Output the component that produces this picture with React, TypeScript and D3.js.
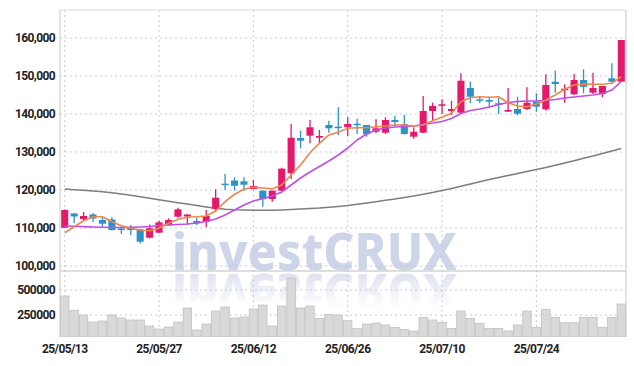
import React from 'react';
import * as d3 from 'd3';

const dates = [
  '25/05/13', '25/05/14', '25/05/15', '25/05/16', '25/05/19', '25/05/20', '25/05/21', '25/05/22', '25/05/23', '25/05/26',
  '25/05/27', '25/05/28', '25/05/29', '25/05/30', '25/06/02', '25/06/04', '25/06/05', '25/06/09', '25/06/10', '25/06/11',
  '25/06/12', '25/06/13', '25/06/16', '25/06/17', '25/06/18', '25/06/19', '25/06/20', '25/06/23', '25/06/24', '25/06/25',
  '25/06/26', '25/06/27', '25/06/30', '25/07/01', '25/07/02', '25/07/03', '25/07/04', '25/07/07', '25/07/08', '25/07/09',
  '25/07/10', '25/07/11', '25/07/14', '25/07/15', '25/07/16', '25/07/17', '25/07/18', '25/07/21', '25/07/22', '25/07/23',
  '25/07/24', '25/07/25', '25/07/28', '25/07/29', '25/07/30', '25/07/31', '25/08/01', '25/08/04', '25/08/05', '25/08/06'
];

const opens = [
  110050, 113820, 112370, 113550, 112110, 112240, 109870, 110130, 109610, 107450,
  108760, 110790, 112970, 113030, 111840, 111660, 115000, 121660, 122500, 122290,
  120260, 119820, 117630, 119820, 124390, 133680, 134290, 133760, 137110, 136660,
  136500, 137450, 137110, 135340, 135080, 138420, 137370, 134030, 135080, 140790,
  142290, 140790, 140340, 146840, 143870, 143680, 142820, 140610, 141320, 141320,
  143240, 141240, 148500, 146320, 145180, 148950, 145610, 145260, 149390, 148500
];
const highs = [
  114900, 113950, 114210, 113950, 112820, 112820, 110390, 110790, 109740, 110920,
  111920, 112550, 115340, 113680, 112710, 114740, 120180, 124210, 123340, 123340,
  122630, 119870, 119870, 125870, 137370, 135610, 138420, 135790, 138240, 141760,
  139130, 138760, 137110, 138610, 139130, 139470, 139740, 136500, 144740, 142970,
  143870, 143500, 150710, 148500, 144740, 144550, 144130, 146840, 144550, 147030,
  145450, 150450, 151390, 147820, 150530, 151760, 150870, 147370, 153340, 159470
];
const lows = [
  110000, 111320, 111840, 111580, 110340, 109340, 108420, 108160, 105920, 107240,
  108610, 110610, 112710, 110790, 110790, 110260, 114470, 120000, 119820, 119820,
  120130, 115610, 116920, 119740, 122890, 130970, 132290, 132290, 135080, 134470,
  134210, 134740, 134030, 134920, 134740, 136660, 134610, 133500, 134920, 138420,
  140000, 139740, 140260, 142820, 142820, 141500, 140000, 140610, 139660, 141050,
  140610, 140870, 145610, 142970, 145000, 145450, 145260, 144390, 148240, 148500
];
const closes = [
  114750, 113030, 113160, 112500, 111130, 109470, 109470, 109470, 106390, 109920,
  111500, 112110, 114920, 113550, 111240, 113160, 117970, 121320, 121130, 121390,
  121050, 117550, 119820, 125610, 133760, 132970, 136500, 134210, 136240, 136400,
  137370, 137180, 134660, 136240, 138420, 137890, 134740, 135340, 140790, 142110,
  142550, 141320, 148760, 144550, 143500, 143240, 142450, 141050, 140080, 142970,
  141920, 147630, 147890, 146660, 148950, 147180, 146840, 147370, 148500, 159470
];
const volumes = [
  440000, 297000, 250000, 180000, 190000, 250000, 220000, 200000, 200000, 140000,
  110000, 130000, 180000, 320000, 100000, 160000, 290000, 330000, 220000, 230000,
  310000, 350000, 140000, 340000, 620000, 320000, 340000, 217000, 257000, 250000,
  193000, 117000, 160000, 170000, 150000, 127000, 107000, 90000, 227000, 200000,
  177000, 117000, 290000, 217000, 167000, 117000, 117000, 90000, 150000, 290000,
  127000, 307000, 227000, 173000, 173000, 227000, 227000, 127000, 227000, 360000
];

const ma5 = [
  108760, 110340, 111920, 112970, 112970, 111660, 110610, 109920, 109470, 109290,
  109920, 111240, 112290, 112820, 112970, 113160, 114470, 116920, 118870, 120180,
  120710, 120530, 120340, 121320, 123950, 126580, 129820, 132290, 134470, 135180,
  136240, 136400, 136400, 136660, 136840, 137110, 137110, 136840, 137110, 138240,
  139130, 140180, 143240, 144290, 144550, 144390, 144550, 142970, 142110, 141920,
  142630, 143680, 145000, 146500, 147630, 147890, 147820, 147820, 148080, 149820
];
const ma20 = [
  110530, 110450, 110370, 110260, 110180, 110130, 110130, 110180, 110260, 110390,
  110660, 110790, 110920, 111050, 111320, 111710, 112370, 113420, 114740, 116050,
  117110, 117760, 118420, 119470, 121320, 123160, 124740, 126180, 127630, 129210,
  131050, 133160, 134740, 135790, 136320, 136580, 136710, 136840, 137240, 137630,
  138030, 138820, 140130, 140920, 141320, 141840, 142500, 143030, 143290, 143420,
  143420, 143550, 143820, 144210, 144470, 144740, 145000, 145390, 146320, 148550
];
const ma60 = [
  120250, 120080, 119920, 119740, 119530, 119260, 118950, 118610, 118240, 117840,
  117450, 117050, 116660, 116320, 115920, 115530, 115180, 114920, 114790, 114740,
  114680, 114660, 114660, 114740, 114870, 115000, 115130, 115260, 115450, 115660,
  115920, 116240, 116580, 116920, 117290, 117630, 118030, 118420, 118890, 119370,
  119870, 120390, 120970, 121580, 122160, 122740, 123290, 123820, 124340, 124870,
  125390, 125920, 126500, 127110, 127710, 128340, 128950, 129610, 130260, 130920
];

const priceTicks = [100000, 110000, 120000, 130000, 140000, 150000, 160000];
const volumeTicks = [250000, 500000];
const dateTicks = ['25/05/13', '25/05/27', '25/06/12', '25/06/26', '25/07/10', '25/07/24'];

const W = 634;
const H = 366;
const left = 60;
const right = 626;
const mainTop = 10;
const mainBottom = 271;
const volTop = 272;
const volBottom = 337;

const UP = '#e4196c';
const DOWN = '#2b93c9';
const GRID = '#c5cadf';
const FONT = 'Roboto, "DejaVu Sans", sans-serif';
const MARK_FONT = '"Noto Sans", "Open Sans", sans-serif';

export default function App() {
  const x = d3.scaleBand<string>().domain(dates).range([left, right]).paddingInner(0.25).paddingOuter(0.125);
  const cx = (i: number) => (x(dates[i]) as number) + x.bandwidth() / 2;
  const y = d3.scaleLinear().domain([100000, 160000]).range([266, 38]);
  const yv = d3.scaleLinear().domain([0, 500000]).range([340, 290]);
  const fmt = d3.format(',');

  const mkLine = (vals: number[]) =>
    d3.line<number>().x((_, i) => cx(i)).y(d => y(d))(vals) as string;

  const volStep = x.step();

  return (
    <svg width={W} height={H} style={{ position: 'absolute', left: 0, top: 0, background: '#fff' }}>
      <defs>
        <clipPath id="volClip">
          <rect x={left} y={volTop} width={right - left} height={volBottom - volTop} />
        </clipPath>
        <clipPath id="mainClip">
          <rect x={left} y={mainTop} width={right - left} height={mainBottom - mainTop} />
        </clipPath>
        <linearGradient id="reflFade" x1="0" y1="0" x2="0" y2="1">
          <stop offset="0" stopColor="#fff" stopOpacity={0.7} />
          <stop offset="1" stopColor="#fff" stopOpacity={0} />
        </linearGradient>
        <mask id="reflMask" maskUnits="userSpaceOnUse" x={0} y={volTop} width={W} height={40}>
          <rect x={0} y={volTop} width={W} height={36} fill="url(#reflFade)" />
        </mask>
      </defs>

      {/* watermark + reflection */}
      <text x={172} y={270} textLength={285} lengthAdjust="spacingAndGlyphs"
        fontFamily={MARK_FONT} fontWeight={800} fontSize={52} fill="#cfd5e8">
        investCRUX
      </text>
      <g clipPath="url(#volClip)">
        <g mask="url(#reflMask)">
          <g transform={`translate(0,${2 * 272}) scale(1,-1)`}>
            <text x={172} y={270} textLength={285} lengthAdjust="spacingAndGlyphs"
              fontFamily={MARK_FONT} fontWeight={800} fontSize={52} fill="#cfd5e8">
              investCRUX
            </text>
          </g>
        </g>
      </g>

      {/* grid */}
      {priceTicks.map(t => (
        <line key={'pg' + t} x1={left} x2={right} y1={y(t)} y2={y(t)} stroke={GRID} strokeDasharray="2,3" />
      ))}
      {volumeTicks.map(t => (
        <line key={'vg' + t} x1={left} x2={right} y1={yv(t)} y2={yv(t)} stroke={GRID} strokeDasharray="2,3" />
      ))}
      {dateTicks.map(d => {
        const xx = cx(dates.indexOf(d));
        return <line key={'dg' + d} x1={xx} x2={xx} y1={mainTop} y2={volBottom} stroke={GRID} strokeDasharray="2,3" />;
      })}

      {/* frame */}
      <line x1={left} x2={left} y1={mainTop} y2={volBottom} stroke="#c9c9c9" />
      <line x1={right} x2={right} y1={mainTop} y2={volBottom} stroke="#c9c9c9" />
      <line x1={left} x2={right} y1={mainTop} y2={mainTop} stroke="#dcdcdc" />
      <line x1={left} x2={right} y1={mainBottom} y2={mainBottom} stroke="#bdbdbd" />

      {/* volume */}
      <g clipPath="url(#volClip)">
        {volumes.map((v, i) => (
          <rect key={'v' + i} x={cx(i) - volStep / 2 + 0.5} y={yv(v)} width={volStep - 1}
            height={volBottom - yv(v)} fill="#d9d9d9" stroke="#bcbcbc" strokeWidth={0.7} />
        ))}
      </g>

      {/* candles + moving averages */}
      <g clipPath="url(#mainClip)">
        <path d={mkLine(ma60)} fill="none" stroke="#7d7d7d" strokeWidth={1.5} />
        {dates.map((d, i) => {
          const up = closes[i] >= opens[i];
          const c = up ? UP : DOWN;
          const top = y(Math.max(opens[i], closes[i]));
          const bot = y(Math.min(opens[i], closes[i]));
          return (
            <g key={d}>
              <line x1={cx(i)} x2={cx(i)} y1={y(highs[i])} y2={y(lows[i])} stroke={c} strokeWidth={1.3} />
              <rect x={cx(i) - x.bandwidth() / 2} y={top} width={x.bandwidth()} height={Math.max(1.5, bot - top)} fill={c} />
            </g>
          );
        })}
        <path d={mkLine(ma20)} fill="none" stroke="#c24ee6" strokeWidth={1.6} />
        <path d={mkLine(ma5)} fill="none" stroke="#ee8748" strokeWidth={1.6} />
      </g>

      {/* axis labels */}
      <g fontFamily={FONT} fontWeight={700} fontSize={12} fill="#222">
        {priceTicks.map(t => (
          <text key={'pt' + t} x={55} y={y(t) + 4} textAnchor="end" letterSpacing={-0.6}>{fmt(t)}</text>
        ))}
        {volumeTicks.map(t => (
          <text key={'vt' + t} x={55} y={yv(t) + 4} textAnchor="end" letterSpacing={-0.6}>{t}</text>
        ))}
        {dateTicks.map(d => (
          <text key={'dt' + d} x={cx(dates.indexOf(d))} y={353} textAnchor="middle" letterSpacing={-0.6}>{d}</text>
        ))}
      </g>
    </svg>
  );
}
